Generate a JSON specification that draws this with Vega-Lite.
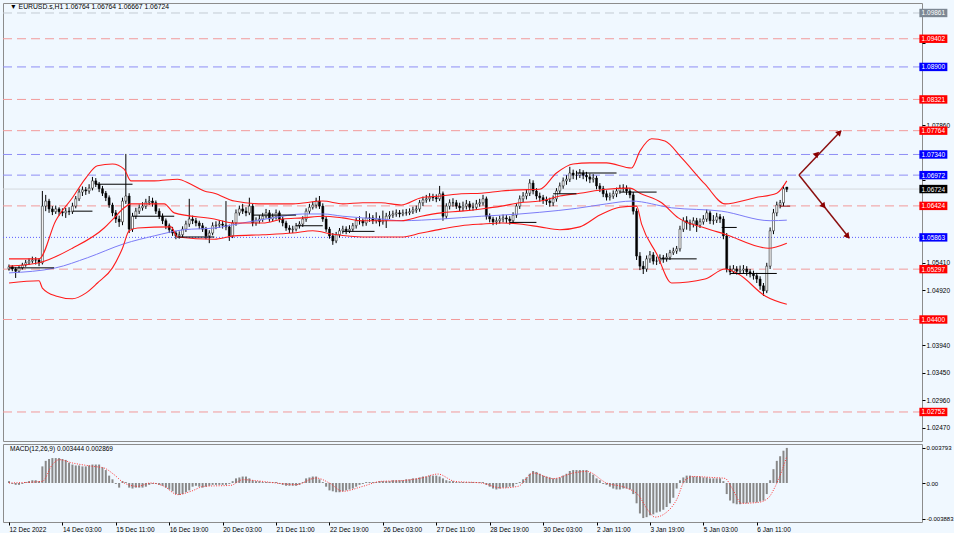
{
"$schema":"https://vega.github.io/schema/vega-lite/v6.json",
"background":"#f0f8ff",
"padding":{"left":2,"top":2,"right":0,"bottom":0},
"spacing":3,
"bounds":"flush",
"config":{"font":"Liberation Sans","view":{"stroke":"#8c8c8c","strokeWidth":1},"axis":{"labelFontSize":6.5,"labelColor":"#000000","tickColor":"#000000","tickSize":3,"domain":false,"grid":false,"labelPadding":1}},
"datasets":{
"bars":[
{"i":0,"o":1.0530,"h":1.0538,"l":1.0527,"c":1.0534,"m":0.0002},
{"i":2,"o":1.0534,"h":1.0537,"l":1.0526,"c":1.0530,"m":-0.0001},
{"i":4,"o":1.0530,"h":1.0533,"l":1.0514,"c":1.0526,"m":-0.0002},
{"i":6,"o":1.0526,"h":1.0536,"l":1.0523,"c":1.0532,"m":-0.0002},
{"i":8,"o":1.0532,"h":1.0541,"l":1.0529,"c":1.0537,"m":-0.0001},
{"i":10,"o":1.0537,"h":1.0546,"l":1.0534,"c":1.0541,"m":0.0001},
{"i":12,"o":1.0541,"h":1.0549,"l":1.0537,"c":1.0544,"m":0.0002},
{"i":14,"o":1.0544,"h":1.0552,"l":1.0540,"c":1.0546,"m":0.0003},
{"i":16,"o":1.0546,"h":1.0551,"l":1.0538,"c":1.0546,"m":0.0003},
{"i":18,"o":1.0546,"h":1.0549,"l":1.0535,"c":1.0541,"m":0.0002},
{"i":20,"o":1.0541,"h":1.0669,"l":1.0538,"c":1.0642,"m":0.0018},
{"i":22,"o":1.0642,"h":1.0662,"l":1.0633,"c":1.0651,"m":0.0024},
{"i":24,"o":1.0651,"h":1.0655,"l":1.0630,"c":1.0637,"m":0.0026},
{"i":26,"o":1.0637,"h":1.0642,"l":1.0626,"c":1.0632,"m":0.0027},
{"i":28,"o":1.0632,"h":1.0643,"l":1.0628,"c":1.0637,"m":0.0027},
{"i":30,"o":1.0637,"h":1.0640,"l":1.0625,"c":1.0632,"m":0.0027},
{"i":32,"o":1.0632,"h":1.0638,"l":1.0624,"c":1.0630,"m":0.0026},
{"i":34,"o":1.0630,"h":1.0639,"l":1.0621,"c":1.0633,"m":0.0025},
{"i":36,"o":1.0633,"h":1.0640,"l":1.0626,"c":1.0632,"m":0.0022},
{"i":38,"o":1.0632,"h":1.0648,"l":1.0628,"c":1.0642,"m":0.0020},
{"i":40,"o":1.0642,"h":1.0660,"l":1.0638,"c":1.0655,"m":0.0019},
{"i":42,"o":1.0655,"h":1.0673,"l":1.0651,"c":1.0667,"m":0.0019},
{"i":44,"o":1.0667,"h":1.0677,"l":1.0660,"c":1.0671,"m":0.0018},
{"i":46,"o":1.0671,"h":1.0676,"l":1.0662,"c":1.0669,"m":0.0018},
{"i":48,"o":1.0669,"h":1.0681,"l":1.0664,"c":1.0674,"m":0.0019},
{"i":50,"o":1.0674,"h":1.0694,"l":1.0670,"c":1.0687,"m":0.0020},
{"i":52,"o":1.0687,"h":1.0692,"l":1.0676,"c":1.0681,"m":0.0020},
{"i":54,"o":1.0681,"h":1.0685,"l":1.0667,"c":1.0673,"m":0.0020},
{"i":56,"o":1.0673,"h":1.0678,"l":1.0660,"c":1.0665,"m":0.0017},
{"i":58,"o":1.0665,"h":1.0669,"l":1.0651,"c":1.0657,"m":0.0014},
{"i":60,"o":1.0657,"h":1.0661,"l":1.0639,"c":1.0644,"m":0.0008},
{"i":62,"o":1.0644,"h":1.0648,"l":1.0624,"c":1.0630,"m":0.0004},
{"i":64,"o":1.0630,"h":1.0635,"l":1.0612,"c":1.0619,"m":-0.0001},
{"i":66,"o":1.0619,"h":1.0625,"l":1.0605,"c":1.0614,"m":-0.0005},
{"i":68,"o":1.0614,"h":1.0657,"l":1.0608,"c":1.0651,"m":0.0002},
{"i":70,"o":1.0651,"h":1.0735,"l":1.0646,"c":1.0660,"m":0.0001},
{"i":72,"o":1.0660,"h":1.0665,"l":1.0594,"c":1.0601,"m":-0.0005},
{"i":74,"o":1.0601,"h":1.0630,"l":1.0596,"c":1.0624,"m":-0.0006},
{"i":76,"o":1.0624,"h":1.0639,"l":1.0619,"c":1.0633,"m":-0.0005},
{"i":78,"o":1.0633,"h":1.0645,"l":1.0628,"c":1.0639,"m":-0.0005},
{"i":80,"o":1.0639,"h":1.0649,"l":1.0634,"c":1.0642,"m":-0.0005},
{"i":82,"o":1.0642,"h":1.0655,"l":1.0637,"c":1.0649,"m":-0.0004},
{"i":84,"o":1.0649,"h":1.0660,"l":1.0644,"c":1.0651,"m":-0.0002},
{"i":86,"o":1.0651,"h":1.0657,"l":1.0641,"c":1.0648,"m":-0.0001},
{"i":88,"o":1.0648,"h":1.0652,"l":1.0628,"c":1.0633,"m":-0.0001},
{"i":90,"o":1.0633,"h":1.0638,"l":1.0619,"c":1.0624,"m":-0.0002},
{"i":92,"o":1.0624,"h":1.0629,"l":1.0610,"c":1.0616,"m":-0.0003},
{"i":94,"o":1.0616,"h":1.0620,"l":1.0601,"c":1.0607,"m":-0.0005},
{"i":96,"o":1.0607,"h":1.0611,"l":1.0594,"c":1.0600,"m":-0.0007},
{"i":98,"o":1.0600,"h":1.0605,"l":1.0589,"c":1.0594,"m":-0.0009},
{"i":100,"o":1.0594,"h":1.0598,"l":1.0583,"c":1.0589,"m":-0.0012},
{"i":102,"o":1.0589,"h":1.0597,"l":1.0584,"c":1.0591,"m":-0.0013},
{"i":104,"o":1.0591,"h":1.0606,"l":1.0587,"c":1.0601,"m":-0.0012},
{"i":106,"o":1.0601,"h":1.0616,"l":1.0596,"c":1.0610,"m":-0.0010},
{"i":108,"o":1.0610,"h":1.0655,"l":1.0605,"c":1.0619,"m":-0.0008},
{"i":110,"o":1.0619,"h":1.0625,"l":1.0610,"c":1.0616,"m":-0.0004},
{"i":112,"o":1.0616,"h":1.0621,"l":1.0606,"c":1.0612,"m":-0.0003},
{"i":114,"o":1.0612,"h":1.0616,"l":1.0601,"c":1.0607,"m":-0.0004},
{"i":116,"o":1.0607,"h":1.0612,"l":1.0596,"c":1.0601,"m":-0.0005},
{"i":118,"o":1.0601,"h":1.0605,"l":1.0583,"c":1.0589,"m":-0.0004},
{"i":120,"o":1.0589,"h":1.0599,"l":1.0576,"c":1.0594,"m":-0.0003},
{"i":122,"o":1.0594,"h":1.0613,"l":1.0590,"c":1.0607,"m":-0.0002},
{"i":124,"o":1.0607,"h":1.0615,"l":1.0601,"c":1.0608,"m":-0.0002},
{"i":126,"o":1.0608,"h":1.0617,"l":1.0603,"c":1.0610,"m":-0.0002},
{"i":128,"o":1.0610,"h":1.0616,"l":1.0602,"c":1.0608,"m":-0.0002},
{"i":130,"o":1.0608,"h":1.0651,"l":1.0599,"c":1.0605,"m":-0.0002},
{"i":132,"o":1.0605,"h":1.0609,"l":1.0580,"c":1.0589,"m":-0.0001},
{"i":134,"o":1.0589,"h":1.0617,"l":1.0585,"c":1.0612,"m":0.0002},
{"i":136,"o":1.0612,"h":1.0636,"l":1.0607,"c":1.0630,"m":0.0005},
{"i":138,"o":1.0630,"h":1.0643,"l":1.0625,"c":1.0637,"m":0.0006},
{"i":140,"o":1.0637,"h":1.0646,"l":1.0628,"c":1.0633,"m":0.0007},
{"i":142,"o":1.0633,"h":1.0640,"l":1.0624,"c":1.0630,"m":0.0007},
{"i":144,"o":1.0630,"h":1.0657,"l":1.0626,"c":1.0642,"m":0.0005},
{"i":146,"o":1.0642,"h":1.0646,"l":1.0606,"c":1.0612,"m":0.0003},
{"i":148,"o":1.0612,"h":1.0622,"l":1.0607,"c":1.0616,"m":0.0002},
{"i":150,"o":1.0616,"h":1.0626,"l":1.0611,"c":1.0619,"m":0.0002},
{"i":152,"o":1.0619,"h":1.0630,"l":1.0614,"c":1.0624,"m":0.0001},
{"i":154,"o":1.0624,"h":1.0637,"l":1.0620,"c":1.0630,"m":0.0001},
{"i":156,"o":1.0630,"h":1.0635,"l":1.0614,"c":1.0619,"m":0.0001},
{"i":158,"o":1.0619,"h":1.0629,"l":1.0615,"c":1.0623,"m":0.0001},
{"i":160,"o":1.0623,"h":1.0636,"l":1.0618,"c":1.0630,"m":0.0001},
{"i":162,"o":1.0630,"h":1.0634,"l":1.0613,"c":1.0619,"m":-0.0001},
{"i":164,"o":1.0619,"h":1.0624,"l":1.0606,"c":1.0612,"m":-0.0002},
{"i":166,"o":1.0612,"h":1.0616,"l":1.0598,"c":1.0603,"m":-0.0003},
{"i":168,"o":1.0603,"h":1.0608,"l":1.0594,"c":1.0600,"m":-0.0003},
{"i":170,"o":1.0600,"h":1.0607,"l":1.0594,"c":1.0601,"m":-0.0003},
{"i":172,"o":1.0601,"h":1.0612,"l":1.0597,"c":1.0607,"m":-0.0003},
{"i":174,"o":1.0607,"h":1.0615,"l":1.0602,"c":1.0610,"m":-0.0002},
{"i":176,"o":1.0610,"h":1.0624,"l":1.0605,"c":1.0619,"m":0.0001},
{"i":178,"o":1.0619,"h":1.0638,"l":1.0614,"c":1.0633,"m":0.0005},
{"i":180,"o":1.0633,"h":1.0646,"l":1.0628,"c":1.0640,"m":0.0006},
{"i":182,"o":1.0640,"h":1.0650,"l":1.0636,"c":1.0644,"m":0.0007},
{"i":184,"o":1.0644,"h":1.0657,"l":1.0638,"c":1.0651,"m":0.0007},
{"i":186,"o":1.0651,"h":1.0660,"l":1.0637,"c":1.0642,"m":0.0004},
{"i":188,"o":1.0642,"h":1.0647,"l":1.0614,"c":1.0619,"m":0.0001},
{"i":190,"o":1.0619,"h":1.0624,"l":1.0596,"c":1.0601,"m":-0.0004},
{"i":192,"o":1.0601,"h":1.0605,"l":1.0584,"c":1.0589,"m":-0.0008},
{"i":194,"o":1.0589,"h":1.0594,"l":1.0573,"c":1.0580,"m":-0.0009},
{"i":196,"o":1.0580,"h":1.0596,"l":1.0576,"c":1.0591,"m":-0.0010},
{"i":198,"o":1.0591,"h":1.0603,"l":1.0586,"c":1.0598,"m":-0.0010},
{"i":200,"o":1.0598,"h":1.0607,"l":1.0593,"c":1.0601,"m":-0.0009},
{"i":202,"o":1.0601,"h":1.0606,"l":1.0592,"c":1.0598,"m":-0.0008},
{"i":204,"o":1.0598,"h":1.0608,"l":1.0594,"c":1.0601,"m":-0.0007},
{"i":206,"o":1.0601,"h":1.0612,"l":1.0597,"c":1.0607,"m":-0.0006},
{"i":208,"o":1.0607,"h":1.0621,"l":1.0602,"c":1.0616,"m":-0.0004},
{"i":210,"o":1.0616,"h":1.0624,"l":1.0609,"c":1.0616,"m":-0.0002},
{"i":212,"o":1.0616,"h":1.0620,"l":1.0606,"c":1.0612,"m":-0.0001},
{"i":214,"o":1.0612,"h":1.0633,"l":1.0607,"c":1.0621,"m":0.0001},
{"i":216,"o":1.0621,"h":1.0629,"l":1.0614,"c":1.0621,"m":0.0001},
{"i":218,"o":1.0621,"h":1.0626,"l":1.0610,"c":1.0616,"m":0.0001},
{"i":220,"o":1.0616,"h":1.0631,"l":1.0611,"c":1.0619,"m":0.0001},
{"i":222,"o":1.0619,"h":1.0625,"l":1.0606,"c":1.0614,"m":0.0002},
{"i":224,"o":1.0614,"h":1.0634,"l":1.0609,"c":1.0616,"m":0.0002},
{"i":226,"o":1.0616,"h":1.0630,"l":1.0603,"c":1.0624,"m":0.0002},
{"i":228,"o":1.0624,"h":1.0633,"l":1.0619,"c":1.0626,"m":0.0002},
{"i":230,"o":1.0626,"h":1.0634,"l":1.0621,"c":1.0628,"m":0.0003},
{"i":232,"o":1.0628,"h":1.0636,"l":1.0623,"c":1.0630,"m":0.0003},
{"i":234,"o":1.0630,"h":1.0635,"l":1.0622,"c":1.0628,"m":0.0003},
{"i":236,"o":1.0628,"h":1.0636,"l":1.0624,"c":1.0630,"m":0.0003},
{"i":238,"o":1.0630,"h":1.0637,"l":1.0625,"c":1.0630,"m":0.0004},
{"i":240,"o":1.0630,"h":1.0638,"l":1.0626,"c":1.0632,"m":0.0004},
{"i":242,"o":1.0632,"h":1.0641,"l":1.0628,"c":1.0635,"m":0.0005},
{"i":244,"o":1.0635,"h":1.0643,"l":1.0630,"c":1.0637,"m":0.0005},
{"i":246,"o":1.0637,"h":1.0653,"l":1.0632,"c":1.0648,"m":0.0006},
{"i":248,"o":1.0648,"h":1.0659,"l":1.0642,"c":1.0653,"m":0.0007},
{"i":250,"o":1.0653,"h":1.0662,"l":1.0648,"c":1.0655,"m":0.0007},
{"i":252,"o":1.0655,"h":1.0665,"l":1.0650,"c":1.0658,"m":0.0008},
{"i":254,"o":1.0658,"h":1.0664,"l":1.0651,"c":1.0657,"m":0.0008},
{"i":256,"o":1.0657,"h":1.0663,"l":1.0649,"c":1.0655,"m":0.0008},
{"i":258,"o":1.0655,"h":1.0678,"l":1.0651,"c":1.0664,"m":0.0007},
{"i":260,"o":1.0664,"h":1.0668,"l":1.0616,"c":1.0624,"m":0.0005},
{"i":262,"o":1.0624,"h":1.0647,"l":1.0619,"c":1.0642,"m":0.0003},
{"i":264,"o":1.0642,"h":1.0654,"l":1.0636,"c":1.0648,"m":0.0002},
{"i":266,"o":1.0648,"h":1.0656,"l":1.0641,"c":1.0648,"m":0.0002},
{"i":268,"o":1.0648,"h":1.0653,"l":1.0637,"c":1.0642,"m":0.0001},
{"i":270,"o":1.0642,"h":1.0648,"l":1.0633,"c":1.0639,"m":0.0001},
{"i":272,"o":1.0639,"h":1.0650,"l":1.0633,"c":1.0642,"m":0.0001},
{"i":274,"o":1.0642,"h":1.0653,"l":1.0636,"c":1.0646,"m":0.0001},
{"i":276,"o":1.0646,"h":1.0651,"l":1.0634,"c":1.0640,"m":0.0001},
{"i":278,"o":1.0640,"h":1.0648,"l":1.0634,"c":1.0640,"m":0.0001},
{"i":280,"o":1.0640,"h":1.0653,"l":1.0635,"c":1.0646,"m":0.0001},
{"i":282,"o":1.0646,"h":1.0655,"l":1.0641,"c":1.0648,"m":0.0001},
{"i":284,"o":1.0648,"h":1.0662,"l":1.0643,"c":1.0655,"m":0.0001},
{"i":286,"o":1.0655,"h":1.0659,"l":1.0618,"c":1.0624,"m":-0.0002},
{"i":288,"o":1.0624,"h":1.0629,"l":1.0613,"c":1.0619,"m":-0.0004},
{"i":290,"o":1.0619,"h":1.0623,"l":1.0608,"c":1.0614,"m":-0.0006},
{"i":292,"o":1.0614,"h":1.0622,"l":1.0609,"c":1.0616,"m":-0.0007},
{"i":294,"o":1.0616,"h":1.0625,"l":1.0611,"c":1.0619,"m":-0.0006},
{"i":296,"o":1.0619,"h":1.0627,"l":1.0613,"c":1.0621,"m":-0.0005},
{"i":298,"o":1.0621,"h":1.0626,"l":1.0612,"c":1.0619,"m":-0.0005},
{"i":300,"o":1.0619,"h":1.0624,"l":1.0609,"c":1.0616,"m":-0.0004},
{"i":302,"o":1.0616,"h":1.0631,"l":1.0611,"c":1.0626,"m":-0.0004},
{"i":304,"o":1.0626,"h":1.0647,"l":1.0621,"c":1.0642,"m":-0.0001},
{"i":306,"o":1.0642,"h":1.0661,"l":1.0637,"c":1.0655,"m":0.0001},
{"i":308,"o":1.0655,"h":1.0667,"l":1.0649,"c":1.0660,"m":0.0004},
{"i":310,"o":1.0660,"h":1.0672,"l":1.0654,"c":1.0665,"m":0.0006},
{"i":312,"o":1.0665,"h":1.0690,"l":1.0660,"c":1.0683,"m":0.0010},
{"i":314,"o":1.0683,"h":1.0688,"l":1.0663,"c":1.0669,"m":0.0013},
{"i":316,"o":1.0669,"h":1.0674,"l":1.0654,"c":1.0660,"m":0.0012},
{"i":318,"o":1.0660,"h":1.0666,"l":1.0650,"c":1.0657,"m":0.0010},
{"i":320,"o":1.0657,"h":1.0662,"l":1.0646,"c":1.0653,"m":0.0008},
{"i":322,"o":1.0653,"h":1.0659,"l":1.0644,"c":1.0651,"m":0.0007},
{"i":324,"o":1.0651,"h":1.0657,"l":1.0641,"c":1.0648,"m":0.0006},
{"i":326,"o":1.0648,"h":1.0661,"l":1.0642,"c":1.0655,"m":0.0005},
{"i":328,"o":1.0655,"h":1.0674,"l":1.0650,"c":1.0669,"m":0.0005},
{"i":330,"o":1.0669,"h":1.0684,"l":1.0664,"c":1.0678,"m":0.0006},
{"i":332,"o":1.0678,"h":1.0693,"l":1.0673,"c":1.0687,"m":0.0008},
{"i":334,"o":1.0687,"h":1.0697,"l":1.0680,"c":1.0690,"m":0.0010},
{"i":336,"o":1.0690,"h":1.0712,"l":1.0685,"c":1.0701,"m":0.0013},
{"i":338,"o":1.0701,"h":1.0707,"l":1.0690,"c":1.0697,"m":0.0014},
{"i":340,"o":1.0697,"h":1.0705,"l":1.0689,"c":1.0697,"m":0.0014},
{"i":342,"o":1.0697,"h":1.0708,"l":1.0692,"c":1.0701,"m":0.0014},
{"i":344,"o":1.0701,"h":1.0706,"l":1.0690,"c":1.0697,"m":0.0014},
{"i":346,"o":1.0697,"h":1.0703,"l":1.0686,"c":1.0694,"m":0.0014},
{"i":348,"o":1.0694,"h":1.0700,"l":1.0683,"c":1.0690,"m":0.0011},
{"i":350,"o":1.0690,"h":1.0699,"l":1.0684,"c":1.0692,"m":0.0009},
{"i":352,"o":1.0692,"h":1.0696,"l":1.0672,"c":1.0678,"m":0.0005},
{"i":354,"o":1.0678,"h":1.0683,"l":1.0667,"c":1.0673,"m":0.0003},
{"i":356,"o":1.0673,"h":1.0678,"l":1.0658,"c":1.0664,"m":-0.0001},
{"i":358,"o":1.0664,"h":1.0670,"l":1.0652,"c":1.0658,"m":-0.0002},
{"i":360,"o":1.0658,"h":1.0666,"l":1.0652,"c":1.0660,"m":-0.0004},
{"i":362,"o":1.0660,"h":1.0670,"l":1.0655,"c":1.0664,"m":-0.0006},
{"i":364,"o":1.0664,"h":1.0675,"l":1.0658,"c":1.0669,"m":-0.0007},
{"i":366,"o":1.0669,"h":1.0680,"l":1.0664,"c":1.0674,"m":-0.0007},
{"i":368,"o":1.0674,"h":1.0681,"l":1.0667,"c":1.0674,"m":-0.0006},
{"i":370,"o":1.0674,"h":1.0679,"l":1.0662,"c":1.0669,"m":-0.0006},
{"i":372,"o":1.0669,"h":1.0674,"l":1.0656,"c":1.0662,"m":-0.0007},
{"i":374,"o":1.0662,"h":1.0667,"l":1.0627,"c":1.0633,"m":-0.0012},
{"i":376,"o":1.0633,"h":1.0638,"l":1.0546,"c":1.0553,"m":-0.0022},
{"i":378,"o":1.0553,"h":1.0560,"l":1.0528,"c":1.0535,"m":-0.0033},
{"i":380,"o":1.0535,"h":1.0544,"l":1.0521,"c":1.0530,"m":-0.0038},
{"i":382,"o":1.0530,"h":1.0554,"l":1.0525,"c":1.0548,"m":-0.0037},
{"i":384,"o":1.0548,"h":1.0562,"l":1.0541,"c":1.0555,"m":-0.0035},
{"i":386,"o":1.0555,"h":1.0560,"l":1.0538,"c":1.0544,"m":-0.0034},
{"i":388,"o":1.0544,"h":1.0552,"l":1.0537,"c":1.0544,"m":-0.0032},
{"i":390,"o":1.0544,"h":1.0556,"l":1.0539,"c":1.0550,"m":-0.0031},
{"i":392,"o":1.0550,"h":1.0555,"l":1.0541,"c":1.0548,"m":-0.0029},
{"i":394,"o":1.0548,"h":1.0558,"l":1.0543,"c":1.0551,"m":-0.0026},
{"i":396,"o":1.0551,"h":1.0564,"l":1.0546,"c":1.0559,"m":-0.0022},
{"i":398,"o":1.0559,"h":1.0568,"l":1.0555,"c":1.0562,"m":-0.0016},
{"i":400,"o":1.0562,"h":1.0571,"l":1.0557,"c":1.0566,"m":-0.0006},
{"i":402,"o":1.0566,"h":1.0607,"l":1.0561,"c":1.0601,"m":0.0003},
{"i":404,"o":1.0601,"h":1.0622,"l":1.0596,"c":1.0616,"m":0.0006},
{"i":406,"o":1.0616,"h":1.0624,"l":1.0600,"c":1.0612,"m":0.0008},
{"i":408,"o":1.0612,"h":1.0618,"l":1.0598,"c":1.0610,"m":0.0008},
{"i":410,"o":1.0610,"h":1.0622,"l":1.0604,"c":1.0616,"m":0.0007},
{"i":412,"o":1.0616,"h":1.0621,"l":1.0596,"c":1.0608,"m":0.0007},
{"i":414,"o":1.0608,"h":1.0620,"l":1.0603,"c":1.0614,"m":0.0007},
{"i":416,"o":1.0614,"h":1.0626,"l":1.0609,"c":1.0619,"m":0.0006},
{"i":418,"o":1.0619,"h":1.0636,"l":1.0614,"c":1.0630,"m":0.0006},
{"i":420,"o":1.0630,"h":1.0634,"l":1.0610,"c":1.0616,"m":0.0005},
{"i":422,"o":1.0616,"h":1.0626,"l":1.0609,"c":1.0617,"m":0.0005},
{"i":424,"o":1.0617,"h":1.0630,"l":1.0612,"c":1.0623,"m":0.0005},
{"i":426,"o":1.0623,"h":1.0628,"l":1.0612,"c":1.0619,"m":0.0005},
{"i":428,"o":1.0619,"h":1.0624,"l":1.0583,"c":1.0589,"m":0.0002},
{"i":430,"o":1.0589,"h":1.0594,"l":1.0524,"c":1.0530,"m":-0.0012},
{"i":432,"o":1.0530,"h":1.0536,"l":1.0519,"c":1.0525,"m":-0.0019},
{"i":434,"o":1.0525,"h":1.0537,"l":1.0521,"c":1.0530,"m":-0.0022},
{"i":436,"o":1.0530,"h":1.0535,"l":1.0520,"c":1.0526,"m":-0.0023},
{"i":438,"o":1.0526,"h":1.0536,"l":1.0521,"c":1.0528,"m":-0.0023},
{"i":440,"o":1.0528,"h":1.0537,"l":1.0522,"c":1.0530,"m":-0.0022},
{"i":442,"o":1.0530,"h":1.0535,"l":1.0518,"c":1.0525,"m":-0.0022},
{"i":444,"o":1.0525,"h":1.0530,"l":1.0515,"c":1.0521,"m":-0.0021},
{"i":446,"o":1.0521,"h":1.0527,"l":1.0511,"c":1.0518,"m":-0.0021},
{"i":448,"o":1.0518,"h":1.0523,"l":1.0505,"c":1.0512,"m":-0.0021},
{"i":450,"o":1.0512,"h":1.0517,"l":1.0493,"c":1.0500,"m":-0.0020},
{"i":452,"o":1.0500,"h":1.0505,"l":1.0482,"c":1.0491,"m":-0.0019},
{"i":454,"o":1.0491,"h":1.0541,"l":1.0487,"c":1.0535,"m":-0.0012},
{"i":456,"o":1.0535,"h":1.0604,"l":1.0530,"c":1.0598,"m":0.0003},
{"i":458,"o":1.0598,"h":1.0637,"l":1.0592,"c":1.0630,"m":0.0015},
{"i":460,"o":1.0630,"h":1.0650,"l":1.0624,"c":1.0644,"m":0.0024},
{"i":462,"o":1.0644,"h":1.0653,"l":1.0638,"c":1.0648,"m":0.0029},
{"i":464,"o":1.0648,"h":1.0679,"l":1.0642,"c":1.0673,"m":0.0035},
{"i":466,"o":1.0676,"h":1.0676,"l":1.0667,"c":1.0672,"m":0.0038}
],
"bb":[
{"b":"u","i":0,"p":1.0548},{"b":"u","i":18,"p":1.0548},{"b":"u","i":28,"p":1.0616},{"b":"u","i":38,"p":1.0657},{"b":"u","i":46,"p":1.0692},{"b":"u","i":53,"p":1.0714},{"b":"u","i":62,"p":1.0717},{"b":"u","i":69,"p":1.0708},{"b":"u","i":73,"p":1.0687},{"b":"u","i":87,"p":1.0687},{"b":"u","i":101,"p":1.0690},{"b":"u","i":109,"p":1.0681},{"b":"u","i":117,"p":1.0669},{"b":"u","i":123,"p":1.0665},{"b":"u","i":135,"p":1.0651},{"b":"u","i":152,"p":1.0646},{"b":"u","i":170,"p":1.0646},{"b":"u","i":188,"p":1.0651},{"b":"u","i":200,"p":1.0646},{"b":"u","i":212,"p":1.0648},{"b":"u","i":223,"p":1.0648},{"b":"u","i":235,"p":1.0644},{"b":"u","i":247,"p":1.0657},{"b":"u","i":259,"p":1.0660},{"b":"u","i":271,"p":1.0664},{"b":"u","i":283,"p":1.0665},{"b":"u","i":295,"p":1.0669},{"b":"u","i":306,"p":1.0671},{"b":"u","i":318,"p":1.0672},{"b":"u","i":328,"p":1.0701},{"b":"u","i":338,"p":1.0717},{"b":"u","i":348,"p":1.0719},{"b":"u","i":358,"p":1.0719},{"b":"u","i":373,"p":1.0710},{"b":"u","i":378,"p":1.0740},{"b":"u","i":385,"p":1.0762},{"b":"u","i":393,"p":1.0758},{"b":"u","i":403,"p":1.0728},{"b":"u","i":417,"p":1.0681},{"b":"u","i":429,"p":1.0646},{"b":"u","i":447,"p":1.0657},{"b":"u","i":460,"p":1.0665},{"b":"u","i":466,"p":1.0687},
{"b":"m","i":0,"p":1.0535},{"b":"m","i":18,"p":1.0541},{"b":"m","i":38,"p":1.0567},{"b":"m","i":57,"p":1.0603},{"b":"m","i":63,"p":1.0621},{"b":"m","i":69,"p":1.0639},{"b":"m","i":73,"p":1.0646},{"b":"m","i":93,"p":1.0646},{"b":"m","i":99,"p":1.0630},{"b":"m","i":123,"p":1.0619},{"b":"m","i":135,"p":1.0612},{"b":"m","i":152,"p":1.0612},{"b":"m","i":164,"p":1.0619},{"b":"m","i":176,"p":1.0621},{"b":"m","i":188,"p":1.0624},{"b":"m","i":200,"p":1.0621},{"b":"m","i":212,"p":1.0616},{"b":"m","i":235,"p":1.0616},{"b":"m","i":247,"p":1.0624},{"b":"m","i":259,"p":1.0630},{"b":"m","i":271,"p":1.0633},{"b":"m","i":283,"p":1.0637},{"b":"m","i":295,"p":1.0642},{"b":"m","i":306,"p":1.0648},{"b":"m","i":318,"p":1.0651},{"b":"m","i":330,"p":1.0660},{"b":"m","i":342,"p":1.0665},{"b":"m","i":358,"p":1.0672},{"b":"m","i":372,"p":1.0674},{"b":"m","i":378,"p":1.0665},{"b":"m","i":391,"p":1.0648},{"b":"m","i":401,"p":1.0621},{"b":"m","i":417,"p":1.0603},{"b":"m","i":429,"p":1.0592},{"b":"m","i":455,"p":1.0567},{"b":"m","i":466,"p":1.0576},
{"b":"l","i":0,"p":1.0505},{"b":"l","i":18,"p":1.0509},{"b":"l","i":20,"p":1.0496},{"b":"l","i":28,"p":1.0482},{"b":"l","i":38,"p":1.0477},{"b":"l","i":46,"p":1.0487},{"b":"l","i":53,"p":1.0505},{"b":"l","i":62,"p":1.0532},{"b":"l","i":68,"p":1.0567},{"b":"l","i":72,"p":1.0598},{"b":"l","i":77,"p":1.0603},{"b":"l","i":97,"p":1.0605},{"b":"l","i":101,"p":1.0587},{"b":"l","i":123,"p":1.0583},{"b":"l","i":135,"p":1.0589},{"b":"l","i":152,"p":1.0591},{"b":"l","i":170,"p":1.0594},{"b":"l","i":182,"p":1.0598},{"b":"l","i":194,"p":1.0592},{"b":"l","i":212,"p":1.0587},{"b":"l","i":235,"p":1.0587},{"b":"l","i":247,"p":1.0594},{"b":"l","i":259,"p":1.0601},{"b":"l","i":271,"p":1.0607},{"b":"l","i":283,"p":1.0610},{"b":"l","i":295,"p":1.0612},{"b":"l","i":306,"p":1.0610},{"b":"l","i":318,"p":1.0605},{"b":"l","i":330,"p":1.0600},{"b":"l","i":342,"p":1.0605},{"b":"l","i":354,"p":1.0626},{"b":"l","i":366,"p":1.0640},{"b":"l","i":376,"p":1.0642},{"b":"l","i":379,"p":1.0610},{"b":"l","i":388,"p":1.0557},{"b":"l","i":397,"p":1.0505},{"b":"l","i":417,"p":1.0512},{"b":"l","i":429,"p":1.0530},{"b":"l","i":437,"p":1.0521},{"b":"l","i":453,"p":1.0482},{"b":"l","i":466,"p":1.0467}
],
"ma":[
{"i":0,"p":1.0523},{"i":28,"p":1.0532},{"i":47,"p":1.0550},{"i":69,"p":1.0575},{"i":87,"p":1.0589},{"i":105,"p":1.0600},{"i":123,"p":1.0603},{"i":140,"p":1.0612},{"i":158,"p":1.0621},{"i":176,"p":1.0628},{"i":188,"p":1.0628},{"i":200,"p":1.0624},{"i":212,"p":1.0621},{"i":223,"p":1.0619},{"i":235,"p":1.0616},{"i":259,"p":1.0619},{"i":283,"p":1.0624},{"i":306,"p":1.0628},{"i":318,"p":1.0631},{"i":340,"p":1.0638},{"i":358,"p":1.0646},{"i":373,"p":1.0651},{"i":397,"p":1.0639},{"i":427,"p":1.0633},{"i":456,"p":1.0616},{"i":466,"p":1.0617}
],
"sig":[
{"i":0,"v":0},{"i":20,"v":0.00018},{"i":26,"v":0.00199},{"i":30,"v":0.00253},{"i":38,"v":0.00217},{"i":50,"v":0.00181},{"i":57,"v":0.00162},{"i":63,"v":0.0009},{"i":69,"v":0},{"i":77,"v":-0.00036},{"i":85,"v":0},{"i":93,"v":-0.00036},{"i":101,"v":-0.00126},{"i":109,"v":-0.0009},{"i":117,"v":-0.00036},{"i":133,"v":-0.00025},{"i":140,"v":0.00036},{"i":148,"v":0.00025},{"i":160,"v":0},{"i":172,"v":-0.00018},{"i":184,"v":0.00054},{"i":192,"v":0},{"i":200,"v":-0.0009},{"i":212,"v":-0.00036},{"i":223,"v":0.00018},{"i":235,"v":0.00025},{"i":247,"v":0.00054},{"i":257,"v":0.00097},{"i":267,"v":0.00018},{"i":283,"v":0},{"i":295,"v":-0.00054},{"i":305,"v":-0.00036},{"i":314,"v":0.00108},{"i":326,"v":0.00047},{"i":338,"v":0.00108},{"i":346,"v":0.00126},{"i":358,"v":0},{"i":370,"v":-0.00054},{"i":377,"v":-0.0013},{"i":383,"v":-0.003},{"i":387,"v":-0.0037},{"i":393,"v":-0.0033},{"i":400,"v":-0.0018},{"i":405,"v":0.0003},{"i":410,"v":0.0007},{"i":421,"v":0.0006},{"i":429,"v":0.0005},{"i":433,"v":-0.0005},{"i":439,"v":-0.0022},{"i":449,"v":-0.0021},{"i":455,"v":-0.0016},{"i":459,"v":-0.0004},{"i":463,"v":0.0013},{"i":466,"v":0.0029}
],
"levels":[
{"p":1.09861,"k":"gray"},{"p":1.09402,"k":"red"},{"p":1.08900,"k":"blue"},{"p":1.08321,"k":"red"},{"p":1.07764,"k":"red"},{"p":1.07340,"k":"blue"},{"p":1.06972,"k":"blue"},{"p":1.06724,"k":"cur"},{"p":1.06424,"k":"red"},{"p":1.05863,"k":"dot"},{"p":1.05297,"k":"red"},{"p":1.04400,"k":"red"},{"p":1.02752,"k":"red"}
],
"segs":[
{"i":0,"i2":27,"p":1.0532},{"i":38,"i2":50,"p":1.0633},{"i":52,"i2":74,"p":1.0681},{"i":74,"i2":99,"p":1.0624},{"i":101,"i2":123,"p":1.0587},{"i":146,"i2":172,"p":1.0626},{"i":172,"i2":188,"p":1.0607},{"i":200,"i2":219,"p":1.0597},{"i":300,"i2":316,"p":1.0613},{"i":326,"i2":340,"p":1.0664},{"i":340,"i2":364,"p":1.0701},{"i":366,"i2":388,"p":1.0667},{"i":390,"i2":412,"p":1.0548},{"i":427,"i2":436,"p":1.0604},{"i":432,"i2":460,"p":1.0522}
],
"seg2":[{"i":462,"i2":468,"p":1.0642}],
"arrows":[
{"g":"up","i":473.3,"p":1.06975},{"g":"up","i":498.4,"p":1.07759},{"g":"dn","i":473.3,"p":1.06975},{"g":"dn","i":503.3,"p":1.05858}
],
"headsUp":[{"i":484.1,"p":1.0735},{"i":497.6,"p":1.07735}],
"headsDn":[{"i":488.1,"p":1.0642},{"i":502.5,"p":1.0588}]
},
"vconcat":[
{
"width":919,"height":438,
"layer":[
{"data":{"name":"levels"},"mark":{"type":"rule","strokeWidth":1},
"encoding":{
"y":{"field":"p","type":"quantitative","scale":{"domain":[1.02235,1.10039],"nice":false,"zero":false},"axis":{"orient":"right","title":null,"values":[1.0247,1.0296,1.0345,1.0394,1.0443,1.0492,1.0541,1.059,1.0639,1.0688,1.0737,1.0786,1.0835,1.0884,1.0933,1.0982],"labelExpr":"indexof([1.0247,1.0296,1.0345,1.0394,1.0492,1.0541,1.0786], datum.value) >= 0 ? format(datum.value, '.5f') : ''","labelOverlap":false,"labelFlush":false,"labelFontSize":6.5}},
"stroke":{"field":"k","type":"nominal","legend":null,"scale":{"domain":["gray","red","blue","dot","cur"],"range":["#c3cbd3","#f29a9a","#8e8ef5","#5a5aff","#d6d9dd"]}},
"strokeDash":{"field":"k","type":"nominal","legend":null,"scale":{"domain":["gray","red","blue","dot","cur"],"range":[[9,5],[9,5],[9,5],[1,2],[1,0]]}}}},
{"data":{"name":"bars"},"mark":{"type":"rule","color":"#000000","strokeWidth":1},
"encoding":{"x":{"field":"i","type":"quantitative","scale":{"domain":[-0.593,544],"nice":false,"zero":false},"axis":null},
"y":{"field":"l","type":"quantitative","scale":{"domain":[1.02235,1.10039],"nice":false,"zero":false},"axis":{"orient":"right","title":null,"values":[1.0247,1.0296,1.0345,1.0394,1.0443,1.0492,1.0541,1.059,1.0639,1.0688,1.0737,1.0786,1.0835,1.0884,1.0933,1.0982],"labelExpr":"indexof([1.0247,1.0296,1.0345,1.0394,1.0492,1.0541,1.0786], datum.value) >= 0 ? format(datum.value, '.5f') : ''","labelOverlap":false,"labelFlush":false,"labelFontSize":6.5}},"y2":{"field":"h"}}},
{"data":{"name":"bars"},"mark":{"type":"bar","width":2,"stroke":"#000000","strokeWidth":0.5},
"encoding":{"x":{"field":"i","type":"quantitative","scale":{"domain":[-0.593,544],"nice":false,"zero":false},"axis":null},
"y":{"field":"o","type":"quantitative","scale":{"domain":[1.02235,1.10039],"nice":false,"zero":false},"axis":{"orient":"right","title":null,"values":[1.0247,1.0296,1.0345,1.0394,1.0443,1.0492,1.0541,1.059,1.0639,1.0688,1.0737,1.0786,1.0835,1.0884,1.0933,1.0982],"labelExpr":"indexof([1.0247,1.0296,1.0345,1.0394,1.0492,1.0541,1.0786], datum.value) >= 0 ? format(datum.value, '.5f') : ''","labelOverlap":false,"labelFlush":false,"labelFontSize":6.5}},"y2":{"field":"c"},
"fill":{"condition":{"test":"datum.c >= datum.o","value":"#ffffff"},"value":"#000000"}}},
{"data":{"name":"ma"},"mark":{"type":"line","color":"#7c7cf7","strokeWidth":1,"interpolate":"monotone"},
"encoding":{"x":{"field":"i","type":"quantitative","scale":{"domain":[-0.593,544],"nice":false,"zero":false},"axis":null},
"y":{"field":"p","type":"quantitative","scale":{"domain":[1.02235,1.10039],"nice":false,"zero":false},"axis":{"orient":"right","title":null,"values":[1.0247,1.0296,1.0345,1.0394,1.0443,1.0492,1.0541,1.059,1.0639,1.0688,1.0737,1.0786,1.0835,1.0884,1.0933,1.0982],"labelExpr":"indexof([1.0247,1.0296,1.0345,1.0394,1.0492,1.0541,1.0786], datum.value) >= 0 ? format(datum.value, '.5f') : ''","labelOverlap":false,"labelFlush":false,"labelFontSize":6.5}}}},
{"data":{"name":"bb"},"mark":{"type":"line","color":"#ff1c1c","strokeWidth":1.1,"interpolate":"monotone"},
"encoding":{"x":{"field":"i","type":"quantitative","scale":{"domain":[-0.593,544],"nice":false,"zero":false},"axis":null},
"y":{"field":"p","type":"quantitative","scale":{"domain":[1.02235,1.10039],"nice":false,"zero":false},"axis":{"orient":"right","title":null,"values":[1.0247,1.0296,1.0345,1.0394,1.0443,1.0492,1.0541,1.059,1.0639,1.0688,1.0737,1.0786,1.0835,1.0884,1.0933,1.0982],"labelExpr":"indexof([1.0247,1.0296,1.0345,1.0394,1.0492,1.0541,1.0786], datum.value) >= 0 ? format(datum.value, '.5f') : ''","labelOverlap":false,"labelFlush":false,"labelFontSize":6.5}},"detail":{"field":"b"}}},
{"data":{"name":"segs"},"mark":{"type":"rule","color":"#000000","strokeWidth":1},
"encoding":{"x":{"field":"i","type":"quantitative","scale":{"domain":[-0.593,544],"nice":false,"zero":false},"axis":null},"x2":{"field":"i2"},
"y":{"field":"p","type":"quantitative","scale":{"domain":[1.02235,1.10039],"nice":false,"zero":false},"axis":{"orient":"right","title":null,"values":[1.0247,1.0296,1.0345,1.0394,1.0443,1.0492,1.0541,1.059,1.0639,1.0688,1.0737,1.0786,1.0835,1.0884,1.0933,1.0982],"labelExpr":"indexof([1.0247,1.0296,1.0345,1.0394,1.0492,1.0541,1.0786], datum.value) >= 0 ? format(datum.value, '.5f') : ''","labelOverlap":false,"labelFlush":false,"labelFontSize":6.5}}}},
{"data":{"name":"seg2"},"mark":{"type":"rule","color":"#8b0000","strokeWidth":1},
"encoding":{"x":{"field":"i","type":"quantitative","scale":{"domain":[-0.593,544],"nice":false,"zero":false},"axis":null},"x2":{"field":"i2"},
"y":{"field":"p","type":"quantitative","scale":{"domain":[1.02235,1.10039],"nice":false,"zero":false},"axis":{"orient":"right","title":null,"values":[1.0247,1.0296,1.0345,1.0394,1.0443,1.0492,1.0541,1.059,1.0639,1.0688,1.0737,1.0786,1.0835,1.0884,1.0933,1.0982],"labelExpr":"indexof([1.0247,1.0296,1.0345,1.0394,1.0492,1.0541,1.0786], datum.value) >= 0 ? format(datum.value, '.5f') : ''","labelOverlap":false,"labelFlush":false,"labelFontSize":6.5}}}},
{"data":{"name":"arrows"},"mark":{"type":"line","color":"#8b1010","strokeWidth":1.5},
"encoding":{"x":{"field":"i","type":"quantitative","scale":{"domain":[-0.593,544],"nice":false,"zero":false},"axis":null},
"y":{"field":"p","type":"quantitative","scale":{"domain":[1.02235,1.10039],"nice":false,"zero":false},"axis":{"orient":"right","title":null,"values":[1.0247,1.0296,1.0345,1.0394,1.0443,1.0492,1.0541,1.059,1.0639,1.0688,1.0737,1.0786,1.0835,1.0884,1.0933,1.0982],"labelExpr":"indexof([1.0247,1.0296,1.0345,1.0394,1.0492,1.0541,1.0786], datum.value) >= 0 ? format(datum.value, '.5f') : ''","labelOverlap":false,"labelFlush":false,"labelFontSize":6.5}},"detail":{"field":"g"}}},
{"data":{"name":"headsUp"},"mark":{"type":"point","shape":"triangle-right","filled":true,"size":45,"angle":-46,"color":"#8b0000","opacity":1},
"encoding":{"x":{"field":"i","type":"quantitative","scale":{"domain":[-0.593,544],"nice":false,"zero":false},"axis":null},
"y":{"field":"p","type":"quantitative","scale":{"domain":[1.02235,1.10039],"nice":false,"zero":false},"axis":{"orient":"right","title":null,"values":[1.0247,1.0296,1.0345,1.0394,1.0443,1.0492,1.0541,1.059,1.0639,1.0688,1.0737,1.0786,1.0835,1.0884,1.0933,1.0982],"labelExpr":"indexof([1.0247,1.0296,1.0345,1.0394,1.0492,1.0541,1.0786], datum.value) >= 0 ? format(datum.value, '.5f') : ''","labelOverlap":false,"labelFlush":false,"labelFontSize":6.5}}}},
{"data":{"name":"headsDn"},"mark":{"type":"point","shape":"triangle-right","filled":true,"size":45,"angle":51,"color":"#8b0000","opacity":1},
"encoding":{"x":{"field":"i","type":"quantitative","scale":{"domain":[-0.593,544],"nice":false,"zero":false},"axis":null},
"y":{"field":"p","type":"quantitative","scale":{"domain":[1.02235,1.10039],"nice":false,"zero":false},"axis":{"orient":"right","title":null,"values":[1.0247,1.0296,1.0345,1.0394,1.0443,1.0492,1.0541,1.059,1.0639,1.0688,1.0737,1.0786,1.0835,1.0884,1.0933,1.0982],"labelExpr":"indexof([1.0247,1.0296,1.0345,1.0394,1.0492,1.0541,1.0786], datum.value) >= 0 ? format(datum.value, '.5f') : ''","labelOverlap":false,"labelFlush":false,"labelFontSize":6.5}}}},
{"data":{"name":"levels"},"mark":{"type":"point","shape":"M-1,-0.3L1,-0.3L1,0.3L-1,0.3Z","filled":true,"size":784,"opacity":1,"strokeWidth":0},
"encoding":{"x":{"datum":553.8,"type":"quantitative","scale":{"domain":[-0.593,544],"nice":false,"zero":false},"axis":null},
"y":{"field":"p","type":"quantitative","scale":{"domain":[1.02235,1.10039],"nice":false,"zero":false},"axis":{"orient":"right","title":null,"values":[1.0247,1.0296,1.0345,1.0394,1.0443,1.0492,1.0541,1.059,1.0639,1.0688,1.0737,1.0786,1.0835,1.0884,1.0933,1.0982],"labelExpr":"indexof([1.0247,1.0296,1.0345,1.0394,1.0492,1.0541,1.0786], datum.value) >= 0 ? format(datum.value, '.5f') : ''","labelOverlap":false,"labelFlush":false,"labelFontSize":6.5}},
"fill":{"field":"k","type":"nominal","legend":null,"scale":{"domain":["gray","red","blue","dot","cur"],"range":["#7d8894","#ff0000","#0000ff","#0000ff","#000000"]}}}},
{"data":{"name":"levels"},"mark":{"type":"text","color":"#ffffff","fontSize":6.5,"align":"center","baseline":"middle","dy":0.5},
"encoding":{"x":{"datum":553.8,"type":"quantitative","scale":{"domain":[-0.593,544],"nice":false,"zero":false},"axis":null},
"y":{"field":"p","type":"quantitative","scale":{"domain":[1.02235,1.10039],"nice":false,"zero":false},"axis":{"orient":"right","title":null,"values":[1.0247,1.0296,1.0345,1.0394,1.0443,1.0492,1.0541,1.059,1.0639,1.0688,1.0737,1.0786,1.0835,1.0884,1.0933,1.0982],"labelExpr":"indexof([1.0247,1.0296,1.0345,1.0394,1.0492,1.0541,1.0786], datum.value) >= 0 ? format(datum.value, '.5f') : ''","labelOverlap":false,"labelFlush":false,"labelFontSize":6.5}},
"text":{"field":"p","type":"quantitative","format":".5f"}}},
{"data":{"values":[{}]},"mark":{"type":"text","color":"#000000","fontSize":6.8,"align":"left","baseline":"middle"},
"encoding":{"x":{"datum":0.6,"type":"quantitative","scale":{"domain":[-0.593,544],"nice":false,"zero":false},"axis":null},
"y":{"datum":1.0997,"type":"quantitative","scale":{"domain":[1.02235,1.10039],"nice":false,"zero":false},"axis":{"orient":"right","title":null,"values":[1.0247,1.0296,1.0345,1.0394,1.0443,1.0492,1.0541,1.059,1.0639,1.0688,1.0737,1.0786,1.0835,1.0884,1.0933,1.0982],"labelExpr":"indexof([1.0247,1.0296,1.0345,1.0394,1.0492,1.0541,1.0786], datum.value) >= 0 ? format(datum.value, '.5f') : ''","labelOverlap":false,"labelFlush":false,"labelFontSize":6.5}},
"text":{"value":"▼ EURUSD.s,H1  1.06764 1.06764 1.06667 1.06724"}}}
]
},
{
"width":919,"height":78,
"layer":[
{"data":{"name":"bars"},"mark":{"type":"bar","width":2,"color":"#888888"},
"encoding":{"x":{"field":"i","type":"quantitative","scale":{"domain":[-0.593,544],"nice":false,"zero":false},"axis":{"title":null,"values":[0,32,64,96,128,160,192,224,256,288,320,352,384,416,448],"labelAlign":"left","labelOverlap":false,"labelFlush":false,"labelFontSize":6.5,"labelExpr":"['12 Dec 2022','14 Dec 03:00','15 Dec 11:00','16 Dec 19:00','20 Dec 03:00','21 Dec 11:00','22 Dec 19:00','26 Dec 03:00','27 Dec 11:00','28 Dec 19:00','30 Dec 03:00','2 Jan 11:00','3 Jan 19:00','5 Jan 03:00','6 Jan 11:00'][round(datum.value/32)]"}},
"y":{"field":"m","type":"quantitative","scale":{"domain":[-0.004226,0.004226],"nice":false,"zero":false},"axis":{"orient":"right","title":null,"values":[0.003793,0,-0.003883],"labelOverlap":false,"labelFlush":false,"labelFontSize":6,"labelExpr":"datum.value == 0 ? '0.00' : (datum.value < 0 ? '-' + format(-datum.value, '.6f') : format(datum.value, '.6f'))"}},
"y2":{"datum":0}}},
{"data":{"name":"sig"},"mark":{"type":"line","color":"#ff3030","strokeWidth":1,"strokeDash":[1,1.5],"interpolate":"monotone"},
"encoding":{"x":{"field":"i","type":"quantitative","scale":{"domain":[-0.593,544],"nice":false,"zero":false},"axis":{"title":null,"values":[0,32,64,96,128,160,192,224,256,288,320,352,384,416,448],"labelAlign":"left","labelOverlap":false,"labelFlush":false,"labelFontSize":6.5,"labelExpr":"['12 Dec 2022','14 Dec 03:00','15 Dec 11:00','16 Dec 19:00','20 Dec 03:00','21 Dec 11:00','22 Dec 19:00','26 Dec 03:00','27 Dec 11:00','28 Dec 19:00','30 Dec 03:00','2 Jan 11:00','3 Jan 19:00','5 Jan 03:00','6 Jan 11:00'][round(datum.value/32)]"}},
"y":{"field":"v","type":"quantitative","scale":{"domain":[-0.004226,0.004226],"nice":false,"zero":false},"axis":{"orient":"right","title":null,"values":[0.003793,0,-0.003883],"labelOverlap":false,"labelFlush":false,"labelFontSize":6,"labelExpr":"datum.value == 0 ? '0.00' : (datum.value < 0 ? '-' + format(-datum.value, '.6f') : format(datum.value, '.6f'))"}}}},
{"data":{"values":[{}]},"mark":{"type":"text","color":"#000000","fontSize":6.5,"align":"left","baseline":"middle"},
"encoding":{"x":{"datum":0.6,"type":"quantitative","scale":{"domain":[-0.593,544],"nice":false,"zero":false},"axis":{"title":null,"values":[0,32,64,96,128,160,192,224,256,288,320,352,384,416,448],"labelAlign":"left","labelOverlap":false,"labelFlush":false,"labelFontSize":6.5,"labelExpr":"['12 Dec 2022','14 Dec 03:00','15 Dec 11:00','16 Dec 19:00','20 Dec 03:00','21 Dec 11:00','22 Dec 19:00','26 Dec 03:00','27 Dec 11:00','28 Dec 19:00','30 Dec 03:00','2 Jan 11:00','3 Jan 19:00','5 Jan 03:00','6 Jan 11:00'][round(datum.value/32)]"}},
"y":{"datum":0.00368,"type":"quantitative","scale":{"domain":[-0.004226,0.004226],"nice":false,"zero":false},"axis":{"orient":"right","title":null,"values":[0.003793,0,-0.003883],"labelOverlap":false,"labelFlush":false,"labelFontSize":6,"labelExpr":"datum.value == 0 ? '0.00' : (datum.value < 0 ? '-' + format(-datum.value, '.6f') : format(datum.value, '.6f'))"}},
"text":{"value":"MACD(12,26,9) 0.003444 0.002869"}}}
]
}
]
}
